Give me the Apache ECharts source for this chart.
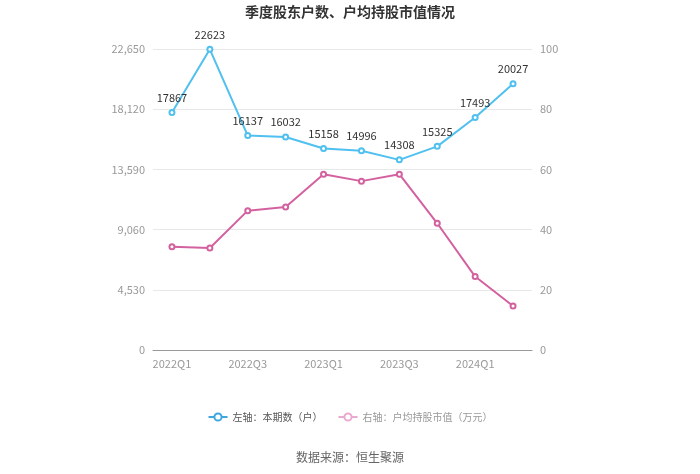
<!DOCTYPE html>
<html><head><meta charset="utf-8">
<script src="https://cdn.jsdelivr.net/npm/echarts@6/dist/echarts.min.js"></script>
<style>html,body{margin:0;padding:0;background:#fff}#c{width:700px;height:474px}</style>
</head><body><div id="c"></div>
<script>
const categories = ['2022Q1','2022Q2','2022Q3','2022Q4','2023Q1','2023Q2','2023Q3','2023Q4','2024Q1','2024Q2'];
const holders = [17867,22623,16137,16032,15158,14996,14308,15325,17493,20027];
const avgValue = [34.3,33.9,46.3,47.5,58.4,56.1,58.4,42.1,24.4,14.6];
const leftTicks = {max:22650, interval:4530};
const rightTicks = {max:100, interval:20};
const font = '"Microsoft YaHei","Noto Sans CJK SC",sans-serif';
const chart = echarts.init(document.getElementById('c'));
chart.setOption({
  animation:false,
  textStyle:{fontFamily:font},
  title:{text:'季度股东户数、户均持股市值情况',left:'center',top:0,textStyle:{fontSize:14,fontWeight:'bold',color:'#333',fontFamily:font}},
  graphic:[{type:'text',left:'center',top:451,style:{text:'数据来源：恒生聚源',fill:'#666',font:'12px '+font}}],
  legend:{bottom:47,left:'center',itemWidth:19,itemHeight:9,itemGap:15,
    data:[
      {name:'左轴：本期数（户）',textStyle:{color:'#555'},itemStyle:{color:'#3ea8de',borderColor:'#3ea8de',borderWidth:1.5},lineStyle:{color:'#3ea8de',width:2,type:'solid'}},
      {name:'右轴：户均持股市值（万元）',textStyle:{color:'#999'},itemStyle:{color:'#eaa9cf',borderColor:'#eaa9cf',borderWidth:1.5},lineStyle:{color:'#eaa9cf',width:2,type:'solid'}}],
    textStyle:{fontSize:10}},
  grid:{left:153,right:168,top:49,bottom:124},
  xAxis:{type:'category',data:categories,boundaryGap:true,
    axisLine:{lineStyle:{color:'#999'}},
    axisTick:{alignWithLabel:true,interval:1,lineStyle:{color:'#999'}},
    axisLabel:{interval:1,color:'#999',fontSize:11}},
  yAxis:[
    {type:'value',min:0,max:leftTicks.max,interval:leftTicks.interval,
     axisLabel:{color:'#999',fontSize:11,formatter:v=>v.toLocaleString('en-US')},
     splitLine:{lineStyle:{color:'#e8e8e8'}},axisLine:{show:false},axisTick:{show:false}},
    {type:'value',min:0,max:rightTicks.max,interval:rightTicks.interval,
     axisLabel:{color:'#999',fontSize:11},
     splitLine:{show:false},axisLine:{show:false},axisTick:{show:false}}
  ],
  series:[
    {name:'左轴：本期数（户）',type:'line',yAxisIndex:0,data:holders,
     symbol:'emptyCircle',symbolSize:5,
     itemStyle:{color:'#4fc0ef'},lineStyle:{color:'#4fc0ef',width:2},
     label:{show:true,position:'top',color:'#333',fontSize:11,distance:6}},
    {name:'右轴：户均持股市值（万元）',type:'line',yAxisIndex:1,data:avgValue,
     symbol:'emptyCircle',symbolSize:5,
     itemStyle:{color:'#d4619f'},lineStyle:{color:'#d4619f',width:2}}
  ]
});
</script></body></html>
